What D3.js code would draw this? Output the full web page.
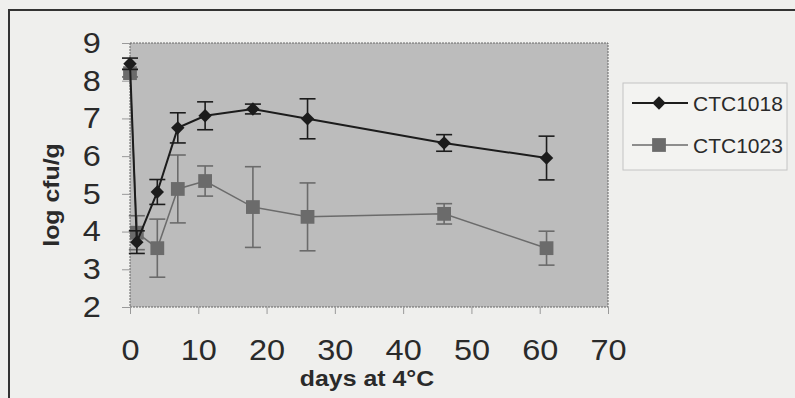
<!doctype html>
<html>
<head>
	<style>
		body{margin:0;background:#efefed;}
		svg{display:block;font-family:"Liberation Sans",Arial,sans-serif;}
		.tick text{fill:#2a2a2a;}
	</style>
</head>
<body>
	<div id="chart"></div>
	<script src="https://d3js.org/d3.v7.min.js"></script>
	<script>

		var W = 795, H = 398;

		// days at 4C
		var days = [0, 1, 4, 7, 11, 18, 26, 46, 61];
		// log cfu/g, mean and error (+/-)
		var ctc1018 = [8.45, 3.72, 5.05, 6.75, 7.07, 7.25, 6.99, 6.35, 5.95];
		var ctc1018Err = [0.15, 0.3, 0.33, 0.4, 0.37, 0.13, 0.53, 0.22, 0.58];
		var ctc1023 = [8.2, 3.97, 3.56, 5.13, 5.34, 4.65, 4.39, 4.47, 3.56];
		var ctc1023Err = [0.1, 0.45, 0.77, 0.9, 0.4, 1.07, 0.9, 0.27, 0.45];
		var xTicks = [0, 10, 20, 30, 40, 50, 60, 70];
		var yTicks = [2, 3, 4, 5, 6, 7, 8, 9];

		var plot = {left: 130, top: 43, right: 608, bottom: 307};

		var x = d3.scaleLinear().domain([0, 70]).range([plot.left, plot.right]);
		var y = d3.scaleLinear().domain([2, 9]).range([plot.bottom, plot.top]);

		var svg = d3.select('#chart').append('svg')
			.attr('width', W)
			.attr('height', H);

		// frame of the scanned figure
		svg.append('path')
			.attr('d', 'M9,' + H + 'V10H' + W)
			.attr('fill', 'none')
			.attr('stroke', '#333')
			.attr('stroke-width', 2);

		svg.append('rect')
			.attr('x', plot.left).attr('y', plot.top)
			.attr('width', plot.right - plot.left)
			.attr('height', plot.bottom - plot.top)
			.attr('fill', '#bcbcbc')
			.attr('stroke', '#666')
			.attr('stroke-dasharray', '2,1');

		// axes
		var yAxis = svg.append('g')
			.attr('transform', 'translate(' + plot.left + ',0)')
			.call(d3.axisLeft(y).tickValues(yTicks).tickFormat(d3.format('d')).tickSize(8).tickPadding(18));
		yAxis.select('.domain').remove();
		yAxis.selectAll('line').attr('stroke', '#999');
		yAxis.selectAll('text')
			.attr('font-size', 29)
			.attr('font-family', '"Liberation Sans",Arial,sans-serif')
			.attr('transform', 'scale(1.12,1)');

		var xAxis = svg.append('g')
			.attr('transform', 'translate(0,' + plot.bottom + ')')
			.call(d3.axisBottom(x).tickValues(xTicks).tickSize(7).tickPadding(25));
		xAxis.select('.domain').remove();
		xAxis.selectAll('line').attr('stroke', '#999');
		xAxis.selectAll('text')
			.attr('font-size', 29)
			.attr('font-family', '"Liberation Sans",Arial,sans-serif')
			.attr('transform', 'scale(1.12,1)');

		svg.append('text')
			.attr('transform', 'translate(367,386) scale(1.13,1)')
			.attr('text-anchor', 'middle')
			.attr('font-size', 22)
			.attr('font-weight', 'bold')
			.attr('fill', '#2a2a2a')
			.text('days at 4°C');

		svg.append('text')
			.attr('transform', 'translate(59,195) rotate(-90) scale(1.13,1)')
			.attr('text-anchor', 'middle')
			.attr('font-size', 22)
			.attr('font-weight', 'bold')
			.attr('fill', '#2a2a2a')
			.text('log cfu/g');

		var series = [
			{name: 'CTC1018', vals: ctc1018, err: ctc1018Err, color: '#1c1c1c', width: 2, size: 90, rot: 45},
			{name: 'CTC1023', vals: ctc1023, err: ctc1023Err, color: '#6b6b6b', width: 1.5, size: 190, rot: 0}
		];

		var line = d3.line()
			.x(function(d){ return x(d[0]); })
			.y(function(d){ return y(d[1]); });

		series.slice().reverse().forEach(function(s){
			var pts = days.map(function(d, i){ return [d, s.vals[i], s.err[i]]; });
			var g = svg.append('g');

			var eb = g.selectAll('g.err').data(pts).enter().append('g')
				.attr('stroke', s.color).attr('stroke-width', 1.6);
			eb.append('line')
				.attr('x1', function(d){ return x(d[0]); })
				.attr('x2', function(d){ return x(d[0]); })
				.attr('y1', function(d){ return y(d[1] - d[2]); })
				.attr('y2', function(d){ return y(d[1] + d[2]); });
			[-1, 1].forEach(function(k){
				eb.append('line')
					.attr('x1', function(d){ return x(d[0]) - 8; })
					.attr('x2', function(d){ return x(d[0]) + 8; })
					.attr('y1', function(d){ return y(d[1] + k * d[2]); })
					.attr('y2', function(d){ return y(d[1] + k * d[2]); });
			});

			g.append('path')
				.datum(pts)
				.attr('d', line)
				.attr('fill', 'none')
				.attr('stroke', s.color)
				.attr('stroke-width', s.width);

			g.selectAll('path.mk').data(pts).enter().append('path')
				.attr('class', 'mk')
				.attr('transform', function(d){ return 'translate(' + x(d[0]) + ',' + y(d[1]) + ') rotate(' + s.rot + ')'; })
				.attr('d', d3.symbol().type(d3.symbolSquare).size(s.size))
				.attr('fill', s.color);
		});

		// legend
		var legend = svg.append('g');
		legend.append('rect')
			.attr('x', 623).attr('y', 83)
			.attr('width', 164).attr('height', 87)
			.attr('fill', '#f3f3f1')
			.attr('stroke', '#c4c4c4');

		var li = legend.selectAll('g.item').data(series).enter().append('g')
			.attr('transform', function(d, i){ return 'translate(0,' + (103 + i * 42) + ')'; });
		li.append('line')
			.attr('x1', 632).attr('x2', 688)
			.attr('stroke', function(d){ return d.color; })
			.attr('stroke-width', function(d){ return d.width; });
		li.append('path')
			.attr('transform', function(d){ return 'translate(659,0) rotate(' + d.rot + ')'; })
			.attr('d', function(d){ return d3.symbol().type(d3.symbolSquare).size(d.size)(); })
			.attr('fill', function(d){ return d.color; });
		li.append('text')
			.attr('x', 693).attr('dy', '0.36em')
			.attr('font-size', 21)
			.attr('fill', '#2a2a2a')
			.text(function(d){ return d.name; });
	</script>
</body>
</html>
